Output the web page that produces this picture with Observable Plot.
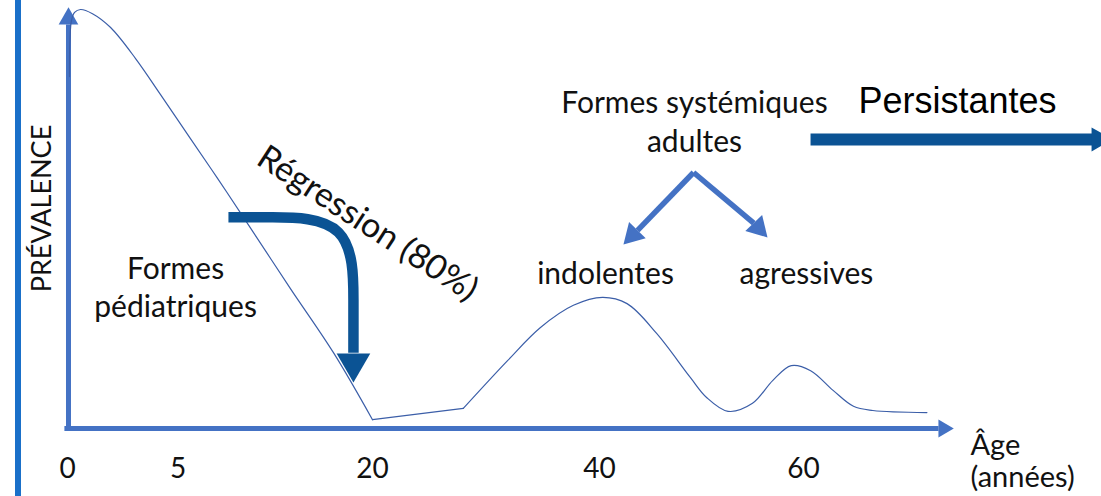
<!DOCTYPE html>
<html>
<head>
<meta charset="utf-8">
<script src="https://cdn.jsdelivr.net/npm/d3@7"></script>
<script src="https://cdn.jsdelivr.net/npm/@observablehq/plot@0.6"></script>
<style>
  html, body { margin: 0; padding: 0; background: #fff; overflow: hidden; }
  #wrap { position: relative; width: 1101px; height: 496px; }
  #edge { position: absolute; left: 15px; top: 0; width: 6px; height: 496px; background: #1a70c9; }
</style>
</head>
<body>
<div id="wrap"><div id="edge"></div></div>
<script>
// ---- Data (age in years, prevalence in arbitrary units 0–100) ----
const pedAges  = [0.09, 0.11, 0.18, 0.32, 0.59, 1.13, 1.95, 3.08, 4.21, 5.96, 8.05, 10.05, 13.67, 16.99, 20];
const pedPrev  = [84.0, 92.6, 97.4, 99.3, 100, 99.0, 95.7, 88.3, 79.7, 69.2, 59.7, 50.4, 33.4, 18.1, 2.1];
const gapAges  = [20, 28.0];
const gapPrev  = [2.1, 4.8];
const adultAges = [28.0, 31.9, 34.8, 37.7, 40.3, 42.7, 45.6, 48.9, 50.5, 52.6, 55.0, 57.0, 58.8, 60.7, 62.9, 64.9, 66.8, 72.1];
const adultPrev = [4.8, 16.2, 24.1, 29.4, 31.3, 29.8, 22.7, 12.2, 7.4, 4.1, 6.0, 11.5, 15.0, 13.8, 9.1, 5.3, 4.3, 3.8];
const tickAges   = [0, 5, 20, 40, 60];
const tickLabels = ["0", "5", "20", "40", "60"];

// annotation texts (age, prevalence of baseline)
const labelTexts = ["Formes", "pédiatriques", "Formes systémiques", "adultes", "indolentes", "agressives"];
const labelAges  = [4.89, 4.89, 49.31, 49.31, 40.59, 60.29];
const labelPrev  = [35.6, 26.7, 75.4, 66.1, 34.6, 34.6];

// regression arrow path (age, prevalence)
const regAges = [8.89, 11.59, 18.53, 18.53, 18.53];
const regPrev = [50.4, 50.4, 50.4, 28.9, 18.1];

// The age axis of the schematic is not linear: spacing of the ticks along the axis (layout)
const tickSpacing = [0, 110.5, 305, 532, 736];
const agePos = d3.scaleLinear().domain(tickAges).range(tickSpacing); // piecewise age -> axis position
const X = (k) => (d) => agePos(d[k]);

const zip = (xs, ys) => xs.map((x, i) => ({age: x, prev: ys[i]}));
const ped = zip(pedAges, pedPrev);
const gap = zip(gapAges, gapPrev);
const adult = zip(adultAges, adultPrev);
const labels = labelTexts.map((t, i) => ({text: t, age: labelAges[i], prev: labelPrev[i]}));
const reg = zip(regAges, regPrev);
const ticks = tickAges.map((a, i) => ({age: a, label: tickLabels[i]}));

const AXIS = "#4472c4";
const DARK = "#0b5394";
const CURVE = "#3b5ea8";
const FONT = "Lato, 'Open Sans', sans-serif";

const chart = Plot.plot({
  width: 1101,
  height: 496,
  margin: 0,
  style: {fontFamily: FONT, background: "transparent", overflow: "visible"},
  x: {domain: [0, 736], range: [67, 803], axis: null},
  y: {domain: [0, 100], range: [428, 9], axis: null},
  marks: [
    // axes
    Plot.link([{a1: -0.14, a2: 73.24, y: 0}], {x1: X("a1"), x2: X("a2"), y1: "y", y2: "y", stroke: AXIS, strokeWidth: 5}),
    Plot.dot([{a: 73.73, y: 0}], {x: X("a"), y: "y", symbol: "triangle", r: 6.6, rotate: 90, fill: AXIS, stroke: "none"}),
    Plot.link([{a: 0.045, y1: -0.5, y2: 96.4}], {x1: X("a"), x2: X("a"), y1: "y1", y2: "y2", stroke: AXIS, strokeWidth: 5}),
    Plot.dot([{a: 0.045, y: 97.8}], {x: X("a"), y: "y", symbol: "triangle", r: 7.3, fill: AXIS, stroke: "none"}),

    // prevalence curve
    Plot.line(ped, {x: X("age"), y: "prev", curve: "catmull-rom", stroke: CURVE, strokeWidth: 1.2}),
    Plot.line(gap, {x: X("age"), y: "prev", stroke: CURVE, strokeWidth: 1.2}),
    Plot.line(adult, {x: X("age"), y: "prev", curve: "catmull-rom", stroke: CURVE, strokeWidth: 1.2}),

    // regression arrow
    Plot.line(reg, {x: X("age"), y: "prev", curve: "basis", stroke: DARK, strokeWidth: 10.5, strokeLinecap: "butt"}),
    Plot.dot([{a: 18.53, y: 15.6}], {x: X("a"), y: "y", symbol: "triangle", r: 12.5, rotate: 180, fill: DARK, stroke: "none"}),

    // chevron arrows
    Plot.link([{a1: 49.22, y1: 61.1, a2: 43.73, y2: 47.3}, {a1: 49.22, y1: 61.1, a2: 55.12, y2: 49.0}],
      {x1: X("a1"), y1: "y1", x2: X("a2"), y2: "y2", stroke: AXIS, strokeWidth: 5.5}),
    Plot.dot([{a: 43.26, y: 46.2, r: 224}, {a: 55.57, y: 47.9, r: 136.5}],
      {x: X("a"), y: "y", symbol: "triangle", r: 8.6, rotate: "r", fill: AXIS, stroke: "none"}),

    // persistantes arrow
    Plot.link([{a1: 60.69, a2: 88.33, y: 69.0}], {x1: X("a1"), x2: X("a2"), y1: "y", y2: "y", stroke: DARK, strokeWidth: 12}),
    Plot.dot([{a: 88.92, y: 69.0}], {x: X("a"), y: "y", symbol: "triangle", r: 8.9, rotate: 90, fill: DARK, stroke: "none"}),

    // texts
    Plot.text(labels, {x: X("age"), y: "prev", text: "text", lineAnchor: "bottom", textAnchor: "middle", fontSize: 30, fill: "#111"}),
    Plot.text([{t: "Régression (80%)", a: 19.61, y: 48.9}], {x: X("a"), y: "y", text: "t", rotate: 33, lineAnchor: "middle", textAnchor: "middle", fontSize: 34, fill: "#111"}),
    Plot.text([{t: "PRÉVALENCE", a: -1.13, y: 52.5}], {x: X("a"), y: "y", text: "t", rotate: -90, lineAnchor: "middle", textAnchor: "middle", fontSize: 27, fill: "#111"}),
    Plot.text([{t: "Persistantes", a: 75.10, y: 75.2}], {x: X("a"), y: "y", text: "t", lineAnchor: "bottom", textAnchor: "middle", fontSize: 36, fontFamily: "'Liberation Sans', Arial, sans-serif", fill: "#000"}),
    Plot.text([{t: "Âge", a: 76.37, y: -6.44}, {t: "(années)", a: 76.37, y: -14.08}], {x: X("a"), y: "y", text: "t", lineAnchor: "bottom", textAnchor: "start", fontSize: 29, fill: "#111"}),

    // tick labels
    Plot.text(ticks, {x: X("age"), y: () => -11.9, text: "label", lineAnchor: "bottom", textAnchor: "middle", fontSize: 28, fill: "#111"})
  ]
});
chart.style.position = "absolute";
chart.style.left = "0";
chart.style.top = "0";
document.getElementById("wrap").appendChild(chart);
</script>
</body>
</html>
